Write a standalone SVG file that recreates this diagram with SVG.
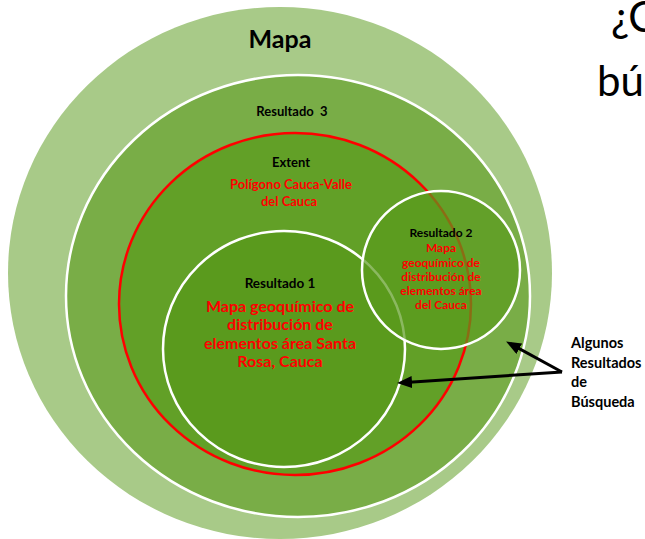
<svg xmlns="http://www.w3.org/2000/svg" width="645" height="539" viewBox="0 0 645 539">
<defs>
<style>
text{font-family:Lato,"Open Sans","Liberation Sans",sans-serif;text-anchor:middle}
.b{font-weight:bold;fill:#000}
.r{font-weight:bold;fill:#ff0000}
.wl{stroke:#ffffff;stroke-width:2.5}
.arrow{fill:none;stroke:#000;stroke-width:3}
</style>
<marker id="ah" markerUnits="userSpaceOnUse" markerWidth="16" markerHeight="12" refX="10" refY="6" orient="auto">
<path d="M0,0 L15,6 L0,12 z" fill="#000"/>
</marker>
</defs>
<rect width="645" height="539" fill="#ffffff"/>
<g id="mapa">
<ellipse cx="280" cy="273" rx="272" ry="266" fill="#a8ca88"/>
<text class="b" x="280" y="48" font-size="25">Mapa</text>
</g>
<g id="resultado3">
<ellipse class="wl" cx="298" cy="296" rx="232" ry="221" fill="#79ad47"/>
<text class="b" x="292" y="116" font-size="13" xml:space="preserve">Resultado  3</text>
</g>
<g id="extent">
<ellipse cx="295" cy="304" rx="176" ry="171" fill="#62a027" stroke="#ff0000" stroke-width="2.5"/>
<text class="b" x="291" y="167" font-size="13">Extent</text>
<text class="r" x="291" y="189" font-size="13">Polígono Cauca-Valle</text>
<text class="r" x="289" y="206" font-size="13">del Cauca</text>
</g>
<g id="resultado1">
<ellipse class="wl" cx="284" cy="349" rx="121" ry="118" fill="#5a9a1d"/>
<text class="b" x="280" y="288" font-size="13.5">Resultado 1</text>
<text class="r" x="280" y="312" font-size="16">Mapa geoquímico de</text>
<text class="r" x="280" y="330" font-size="16">distribución de</text>
<text class="r" x="280" y="348.5" font-size="16">elementos área Santa</text>
<text class="r" x="280" y="367" font-size="16">Rosa, Cauca</text>
</g>
<g id="resultado2">
<ellipse class="wl" cx="441" cy="270" rx="79" ry="79" fill="#5a9a1d" fill-opacity="0.7"/>
<text class="b" x="441" y="237" font-size="12">Resultado 2</text>
<text class="r" x="441" y="252" font-size="12">Mapa</text>
<text class="r" x="441" y="267" font-size="12">geoquímico de</text>
<text class="r" x="441" y="281" font-size="12">distribución de</text>
<text class="r" x="441" y="295" font-size="12">elementos área</text>
<text class="r" x="441" y="309" font-size="12">del Cauca</text>
</g>
<g id="connectors">
<path class="arrow" d="M562,372 L510.5,343.9" marker-end="url(#ah)"/>
<path class="arrow" d="M562,372 L402,382.7" marker-end="url(#ah)"/>
</g>
<g id="label">
<text class="b" x="571" y="348" font-size="14.5" style="text-anchor:start">Algunos</text>
<text class="b" x="571" y="368" font-size="14.5" style="text-anchor:start">Resultados</text>
<text class="b" x="571" y="387" font-size="14.5" style="text-anchor:start">de</text>
<text class="b" x="571" y="407" font-size="14.5" style="text-anchor:start">Búsqueda</text>
</g>
<g id="title">
<text x="611" y="32" font-size="42" fill="#000" style="text-anchor:start">¿C</text>
<text x="597" y="96" font-size="42" fill="#000" style="text-anchor:start">bú</text>
</g>
</svg>
